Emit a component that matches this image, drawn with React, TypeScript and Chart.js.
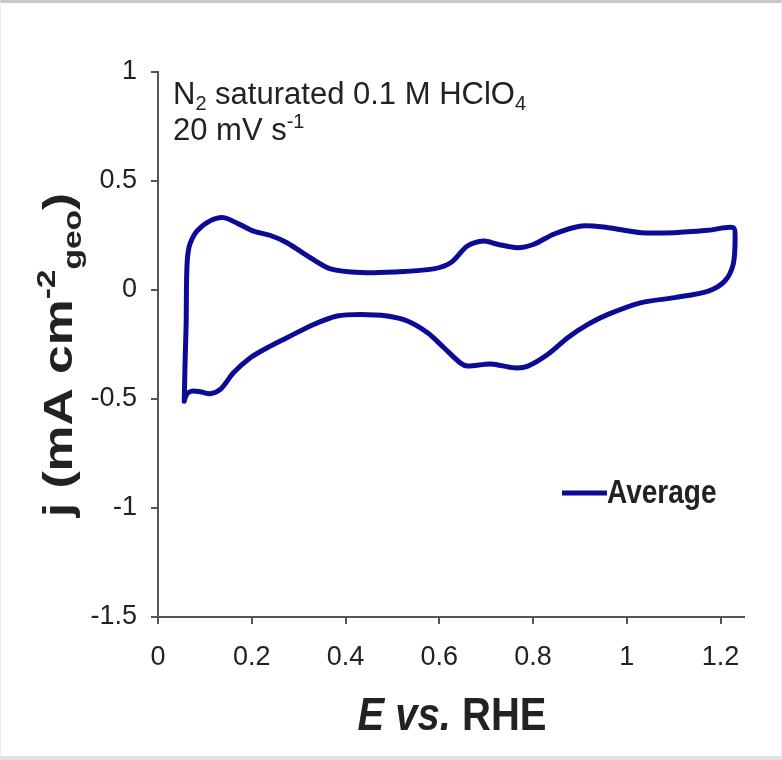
import React, { useEffect, useRef } from "react";
import { Chart, registerables } from "chart.js";

Chart.register(...registerables);

// Potential E vs. RHE (V) — closed CV loop, anodic sweep then cathodic sweep
const potentialE: number[] = [
  0.056, 0.058, 0.060, 0.061, 0.063, 0.068, 0.083, 0.111, 0.140, 0.175,
  0.204, 0.240, 0.275, 0.325, 0.368, 0.432, 0.503, 0.588, 0.625, 0.660,
  0.695, 0.724, 0.767, 0.802, 0.845, 0.903, 0.960, 1.031, 1.102, 1.174,
  1.227, 1.231, 1.227, 1.209, 1.174, 1.102, 1.031, 0.960, 0.917, 0.874,
  0.831, 0.789, 0.760, 0.710, 0.660, 0.645, 0.610, 0.575, 0.532, 0.489,
  0.432, 0.382, 0.332, 0.275, 0.233, 0.197, 0.161, 0.133, 0.111, 0.090,
  0.072, 0.061, 0.056,
];

// Current density j (mA cm^-2 geo)
const currentJ: number[] = [
  -0.510, -0.310, -0.158, 0.050, 0.150, 0.210, 0.270, 0.317, 0.332, 0.300,
  0.270, 0.250, 0.217, 0.148, 0.097, 0.080, 0.083, 0.097, 0.126, 0.202,
  0.225, 0.210, 0.194, 0.210, 0.257, 0.294, 0.286, 0.263, 0.263, 0.274,
  0.286, 0.240, 0.118, 0.041, -0.005, -0.035, -0.058, -0.112, -0.158, -0.219,
  -0.296, -0.349, -0.357, -0.339, -0.349, -0.335, -0.265, -0.196, -0.142, -0.119,
  -0.112, -0.119, -0.158, -0.219, -0.265, -0.311, -0.380, -0.456, -0.476, -0.467,
  -0.464, -0.479, -0.510,
];

const xTickValues: number[] = [0, 0.2, 0.4, 0.6, 0.8, 1, 1.2];
const yTickValues: number[] = [-1.5, -1, -0.5, 0, 0.5, 1];
const xRange: number[] = [0, 1.25];
const yRange: number[] = [-1.5, 1];

const seriesLabel = "Average";
const seriesColor = "#0b0b96";
const noteLine1 = ["N", "2", " saturated 0.1 M HClO", "4"];
const noteLine2 = ["20 mV s", "-1"];
const xTitleParts = ["E vs.", " RHE"];
const yTitleParts = ["j (mA cm", "-2", "geo", ")"];

const FONT = "'Liberation Sans', Arial, Helvetica, sans-serif";
const TEXT = "#222222";
const AXIS = "#555555";

type Part = { t: string; f: string; dy: number };

function drawParts(
  ctx: CanvasRenderingContext2D,
  parts: Part[],
  x: number,
  y: number,
  sx: number,
  sy: number,
  align: "left" | "center"
) {
  ctx.save();
  ctx.translate(x, y);
  ctx.scale(sx, sy);
  let total = 0;
  for (const p of parts) { ctx.font = p.f; total += ctx.measureText(p.t).width; }
  let px = align === "center" ? -total / 2 : 0;
  for (const p of parts) {
    ctx.font = p.f;
    ctx.fillText(p.t, px, p.dy);
    px += ctx.measureText(p.t).width;
  }
  ctx.restore();
}

const annotate = {
  id: "annotate",
  afterDraw(chart: any) {
    const ctx = chart.ctx as CanvasRenderingContext2D;
    const area = chart.chartArea;
    ctx.save();
    ctx.fillStyle = TEXT;
    ctx.textBaseline = "alphabetic";
    ctx.textAlign = "left";

    // Note text (two lines)
    const big = `31px ${FONT}`;
    const small = `20px ${FONT}`;
    drawParts(ctx, [
      { t: noteLine1[0], f: big, dy: 0 },
      { t: noteLine1[1], f: small, dy: 6 },
      { t: noteLine1[2], f: big, dy: 0 },
      { t: noteLine1[3], f: small, dy: 6 },
    ], area.left + 15, 104, 1, 1, "left");
    drawParts(ctx, [
      { t: noteLine2[0], f: big, dy: 0 },
      { t: noteLine2[1], f: small, dy: -12 },
    ], area.left + 15, 140, 1, 1, "left");

    // Legend
    const ly = 493;
    ctx.strokeStyle = seriesColor;
    ctx.lineWidth = 5;
    ctx.lineCap = "butt";
    ctx.beginPath(); ctx.moveTo(562, ly); ctx.lineTo(607, ly); ctx.stroke();
    drawParts(ctx, [{ t: seriesLabel, f: `bold 28px ${FONT}`, dy: 0 }], 607, 503, 1, 1.2, "left");

    // X title
    const tb = `bold 40px ${FONT}`;
    const ti = `italic bold 40px ${FONT}`;
    drawParts(ctx, [
      { t: xTitleParts[0], f: ti, dy: 0 },
      { t: xTitleParts[1], f: tb, dy: 0 },
    ], 452, 730, 1, 1.16, "center");

    // Y title (rotated)
    ctx.translate(72, 355);
    ctx.rotate(-Math.PI / 2);
    const yb = `bold 40px ${FONT}`;
    const ys = `bold 26px ${FONT}`;
    drawParts(ctx, [
      { t: yTitleParts[0], f: yb, dy: 0 },
      { t: yTitleParts[1], f: ys, dy: -17 },
      { t: yTitleParts[2], f: ys, dy: 9 },
      { t: yTitleParts[3], f: yb, dy: 0 },
    ], 0, 0, 1.29, 1, "center");
    ctx.restore();
  },
};

export default function App() {
  const ref = useRef<HTMLCanvasElement | null>(null);

  useEffect(() => {
    if (!ref.current) return;
    const points = potentialE.map((e, i) => ({ x: e, y: currentJ[i] }));
    const chart = new Chart(ref.current, {
      type: "scatter",
      data: {
        datasets: [
          {
            label: seriesLabel,
            data: points,
            showLine: true,
            borderColor: seriesColor,
            backgroundColor: seriesColor,
            borderWidth: 5,
            pointRadius: 0,
            tension: 0.3,
            borderJoinStyle: "round",
            borderCapStyle: "round",
          },
        ],
      },
      options: {
        responsive: false,
        animation: false,
        devicePixelRatio: 1,
        layout: { padding: { left: 58, right: 38, top: 72, bottom: 0 } },
        plugins: { legend: { display: false }, tooltip: { enabled: false } },
        scales: {
          x: {
            type: "linear",
            min: xRange[0],
            max: xRange[1],
            afterBuildTicks: (s: any) => { s.ticks = xTickValues.map((v) => ({ value: v })); },
            afterFit: (s: any) => { s.height = 143; },
            grid: { drawOnChartArea: false, drawTicks: true, tickLength: 7, color: AXIS, lineWidth: 2 },
            border: { display: true, color: AXIS, width: 2 },
            ticks: {
              color: TEXT,
              font: { family: FONT, size: 27 },
              padding: 17,
              maxRotation: 0,
              autoSkip: false,
              callback: (v: any) => String(v),
            },
          },
          y: {
            type: "linear",
            min: yRange[0],
            max: yRange[1],
            afterBuildTicks: (s: any) => { s.ticks = yTickValues.map((v) => ({ value: v })); },
            afterFit: (s: any) => { s.width = 100; },
            grid: { drawOnChartArea: false, drawTicks: true, tickLength: 7, color: AXIS, lineWidth: 2 },
            border: { display: true, color: AXIS, width: 2 },
            ticks: {
              color: TEXT,
              font: { family: FONT, size: 27 },
              padding: 14,
              autoSkip: false,
              callback: (v: any) => String(v),
            },
          },
        },
      },
      plugins: [annotate],
    });
    return () => chart.destroy();
  }, []);

  return (
    <div
      style={{
        position: "absolute",
        left: 0,
        top: 0,
        width: 782,
        height: 760,
        boxSizing: "border-box",
        background: "#ffffff",
        borderTop: "3px solid #c8c8c8",
        borderBottom: "4px solid #e2e2e2",
        borderLeft: "1px solid #ececec",
        borderRight: "1px solid #ececec",
        overflow: "hidden",
      }}
    >
      <canvas
        ref={ref}
        width={782}
        height={760}
        style={{ position: "absolute", left: -1, top: -3, width: 782, height: 760, display: "block" }}
      />
    </div>
  );
}
